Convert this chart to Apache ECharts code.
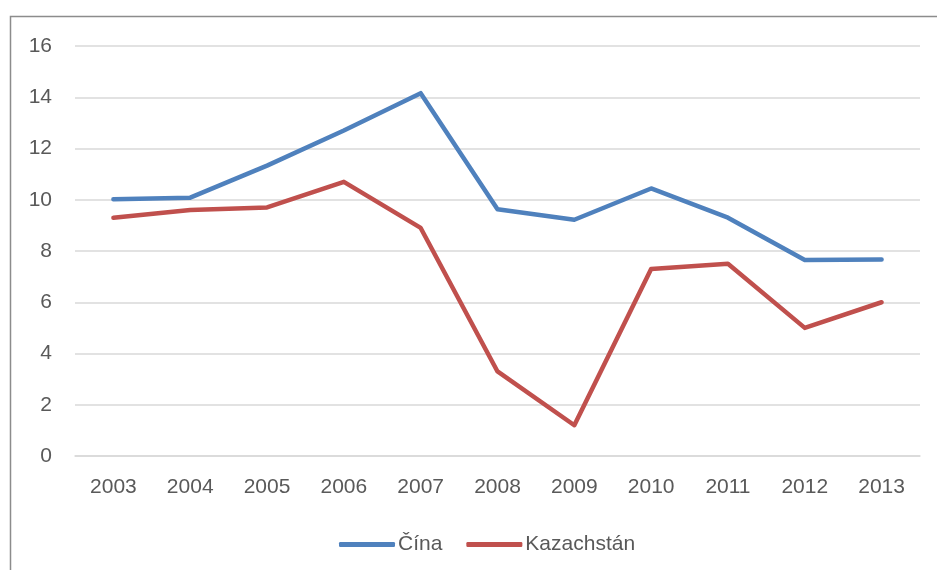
<!DOCTYPE html>
<html>
<head>
<meta charset="utf-8">
<script src="https://cdn.jsdelivr.net/npm/echarts@6/dist/echarts.min.js"></script>
<style>
  html, body { margin: 0; padding: 0; background: #fff; }
  #chart { width: 937px; height: 570px; }
</style>
</head>
<body>
<div id="chart"></div>
<script>
const years = ["2003", "2004", "2005", "2006", "2007", "2008", "2009", "2010", "2011", "2012", "2013"];
const cina = [10.02, 10.08, 11.33, 12.7, 14.16, 9.63, 9.22, 10.44, 9.3, 7.65, 7.67];
const kazachstan = [9.3, 9.6, 9.7, 10.7, 8.9, 3.3, 1.2, 7.3, 7.5, 5.0, 6.0];

const fontFam = "'Liberation Sans', 'Noto Sans', sans-serif";
const chart = echarts.init(document.getElementById("chart"));
chart.setOption({
  animation: false,
  graphic: [
    {
      type: "rect",
      shape: { x: 10.5, y: 16.5, width: 1000, height: 1000 },
      style: { fill: "none", stroke: "#8c8c8c", lineWidth: 1.5 }
    }
  ],
  grid: { left: 75, right: 17, top: 46, bottom: 114 },
  legend: {
    left: 334,
    top: 529,
    itemWidth: 56,
    itemHeight: 5,
    itemGap: 24,
    icon: "roundRect",
    textStyle: { fontFamily: fontFam, fontSize: 21, color: "#595959", padding: [0, 0, 0, -2] },
    data: ["Čína", "Kazachstán"]
  },
  xAxis: {
    type: "category",
    data: years,
    boundaryGap: true,
    axisLine: { lineStyle: { color: "#d9d9d9", width: 1.5 } },
    axisTick: { show: false },
    axisLabel: { fontFamily: fontFam, fontSize: 21, color: "#595959", margin: 21 }
  },
  yAxis: {
    type: "value",
    min: 0,
    max: 16,
    interval: 2,
    axisLine: { show: false },
    axisTick: { show: false },
    splitLine: { lineStyle: { color: "#d9d9d9", width: 1.5 } },
    axisLabel: { fontFamily: fontFam, fontSize: 21, color: "#595959", margin: 23 }
  },
  series: [
    {
      name: "Čína",
      type: "line",
      data: cina,
      symbol: "none",
      lineStyle: { color: "#4f81bd", width: 4.5, cap: "round", join: "round" },
      itemStyle: { color: "#4f81bd" }
    },
    {
      name: "Kazachstán",
      type: "line",
      data: kazachstan,
      symbol: "none",
      lineStyle: { color: "#c0504d", width: 4.5, cap: "round", join: "round" },
      itemStyle: { color: "#c0504d" }
    }
  ]
});
</script>
</body>
</html>
